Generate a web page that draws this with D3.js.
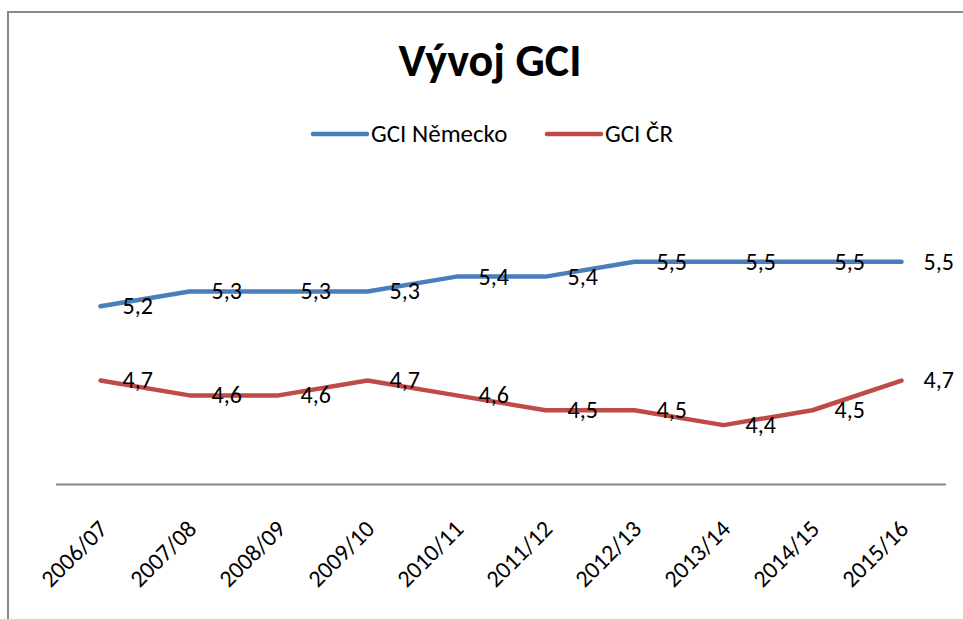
<!DOCTYPE html>
<html>
<head>
<meta charset="utf-8">
<script src="https://cdnjs.cloudflare.com/ajax/libs/d3/7.8.5/d3.min.js"></script>
<style>
  html, body { margin: 0; padding: 0; background: #fff; }
  svg text { font-family: Carlito, Calibri, Lato, sans-serif; fill: #000; }
</style>
</head>
<body>
<svg id="chart" width="963" height="619"></svg>
<script>
// data
const years = ["2006/07","2007/08","2008/09","2009/10","2010/11","2011/12","2012/13","2013/14","2014/15","2015/16"]
const gciDE = [5.2, 5.3, 5.3, 5.3, 5.4, 5.4, 5.5, 5.5, 5.5, 5.5]
const gciCZ = [4.7, 4.6, 4.6, 4.7, 4.6, 4.5, 4.5, 4.4, 4.5, 4.7]
const seriesNames = ["GCI Německo", "GCI ČR"]
const seriesColors = ["#4a7ebb", "#be4b48"]
const title = "Vývoj GCI"

const W = 963, H = 619
let svg = d3.select("#chart")

// chart frame (cut off on right / bottom like the screenshot)
svg.append("rect")
    .attr("x", 8).attr("y", 12)
    .attr("width", W + 20).attr("height", H + 20)
    .attr("fill", "#fff")
    .attr("stroke", "#898989")
    .attr("stroke-width", 2)

let xScale = d3.scalePoint().domain(years).range([56, 946]).padding(0.5)
let yScale = d3.scaleLinear().domain([4, 6]).range([484.5, 187.5])

// category axis
let x_axis = d3.axisBottom(xScale).tickSize(0).tickFormat("")
let gx = svg.append("g").attr("transform", `translate(0,${484.5})`).call(x_axis)
gx.select(".domain").attr("stroke", "#868686").attr("stroke-width", 2)
    .attr("d", "M56,0H946")

svg.append("g").selectAll("text")
    .data(years)
    .enter()
    .append("text")
    .attr("transform", d => `translate(${xScale(d) + 3},${525}) rotate(-45)`)
    .attr("text-anchor", "end")
    .attr("dy", "0.32em")
    .style("font-size", "24px")
    .text(d => d)

// lines + labels
let line = d3.line().x((d, i) => xScale(years[i])).y(d => yScale(d))
;[gciDE, gciCZ].forEach(function (vals, s) {
    svg.append("path")
        .datum(vals)
        .attr("d", line)
        .attr("fill", "none")
        .attr("stroke", seriesColors[s])
        .attr("stroke-width", 4.5)
        .attr("stroke-linejoin", "round")
        .attr("stroke-linecap", "round")

    svg.append("g").selectAll("text")
        .data(vals)
        .enter()
        .append("text")
        .attr("x", (d, i) => xScale(years[i]) + 22)
        .attr("y", d => yScale(d))
        .attr("dy", "0.33em")
        .style("font-size", "24px")
        .text(d => d.toFixed(1).replace(".", ","))
})

// title
svg.append("text")
    .attr("x", 490).attr("y", 76)
    .attr("text-anchor", "middle")
    .style("font-size", "46px")
    .style("font-weight", "bold")
    .text(title)

// legend
let legendX = [313, 547]
seriesNames.forEach(function (d, i) {
    let lg = svg.append("g").attr("transform", `translate(${legendX[i]},${134})`)
    lg.append("line")
        .attr("x1", 0).attr("x2", 54)
        .attr("stroke", seriesColors[i])
        .attr("stroke-width", 4.5)
        .attr("stroke-linecap", "round")
    lg.append("text")
        .attr("x", 58)
        .attr("dy", "0.33em")
        .style("font-size", "25px")
        .text(d)
})
</script>
</body>
</html>
